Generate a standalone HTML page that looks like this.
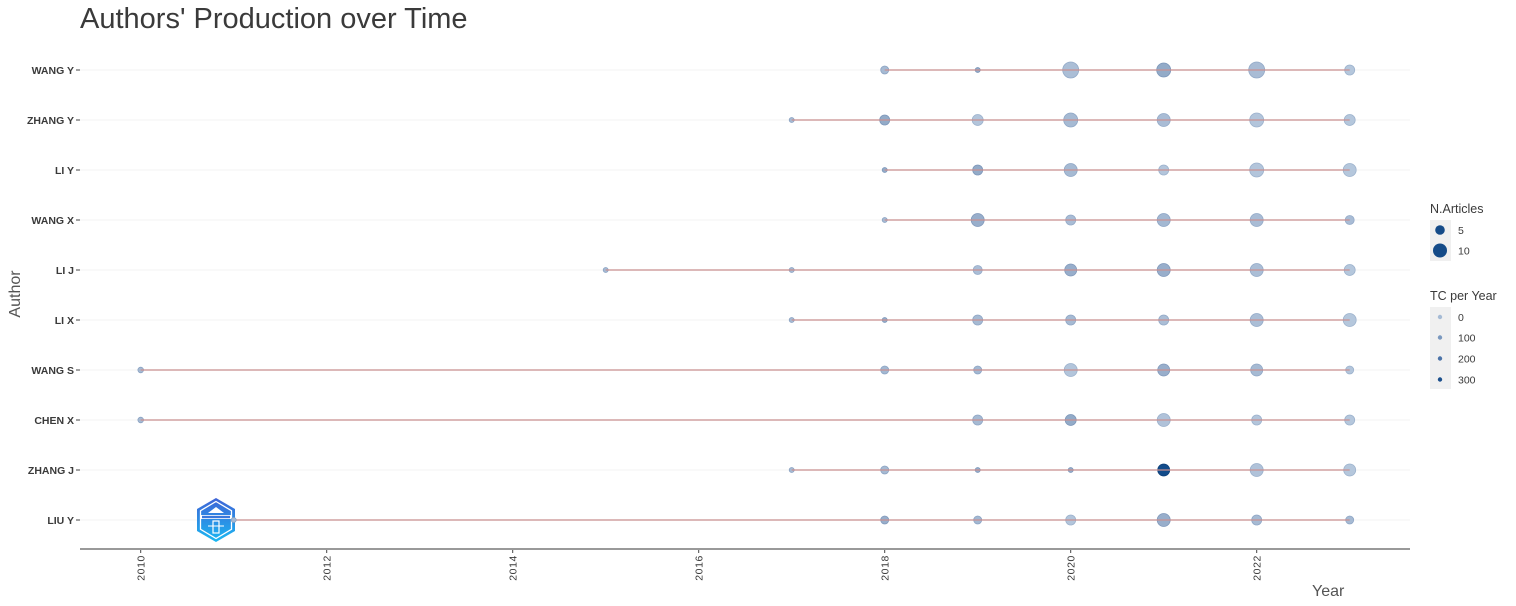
<!DOCTYPE html>
<html>
<head>
<meta charset="utf-8">
<style>
html,body{margin:0;padding:0;background:#fff;}
svg{display:block;}
text{font-family:"Liberation Sans",sans-serif;}
</style>
</head>
<body>
<svg width="1516" height="606" viewBox="0 0 1516 606" xmlns="http://www.w3.org/2000/svg">
<defs>
<linearGradient id="lg" x1="0" y1="0" x2="0" y2="1">
<stop offset="0" stop-color="#3f63d6"/>
<stop offset="1" stop-color="#1ab8f2"/>
</linearGradient>
</defs>

<!-- title -->
<text x="80" y="28" font-size="29" fill="#3a3a3a">Authors' Production over Time</text>

<!-- gridlines -->
<g stroke="#f3f3f3" stroke-width="1">
<line x1="80" y1="70" x2="1410" y2="70"/>
<line x1="80" y1="120" x2="1410" y2="120"/>
<line x1="80" y1="170" x2="1410" y2="170"/>
<line x1="80" y1="220" x2="1410" y2="220"/>
<line x1="80" y1="270" x2="1410" y2="270"/>
<line x1="80" y1="320" x2="1410" y2="320"/>
<line x1="80" y1="370" x2="1410" y2="370"/>
<line x1="80" y1="420" x2="1410" y2="420"/>
<line x1="80" y1="470" x2="1410" y2="470"/>
<line x1="80" y1="520" x2="1410" y2="520"/>
</g>

<!-- y labels -->
<g font-size="10.5" font-weight="bold" fill="#3a3a3a" text-anchor="end">
<text x="74" y="74">WANG Y</text>
<text x="74" y="124">ZHANG Y</text>
<text x="74" y="174">LI Y</text>
<text x="74" y="224">WANG X</text>
<text x="74" y="274">LI J</text>
<text x="74" y="324">LI X</text>
<text x="74" y="374">WANG S</text>
<text x="74" y="424">CHEN X</text>
<text x="74" y="474">ZHANG J</text>
<text x="74" y="524">LIU Y</text>
</g>
<g stroke="#444" stroke-width="1">
<line x1="76" y1="70" x2="80" y2="70"/>
<line x1="76" y1="120" x2="80" y2="120"/>
<line x1="76" y1="170" x2="80" y2="170"/>
<line x1="76" y1="220" x2="80" y2="220"/>
<line x1="76" y1="270" x2="80" y2="270"/>
<line x1="76" y1="320" x2="80" y2="320"/>
<line x1="76" y1="370" x2="80" y2="370"/>
<line x1="76" y1="420" x2="80" y2="420"/>
<line x1="76" y1="470" x2="80" y2="470"/>
<line x1="76" y1="520" x2="80" y2="520"/>
</g>

<!-- axis titles -->
<text transform="translate(20,294) rotate(-90)" font-size="16" fill="#555" text-anchor="middle">Author</text>
<text x="1312" y="596" font-size="16" fill="#555">Year</text>

<!-- x axis -->
<line x1="80" y1="549" x2="1410" y2="549" stroke="#999" stroke-width="2"/>
<g stroke="#444" stroke-width="1">
<line x1="140.7" y1="550" x2="140.7" y2="553"/>
<line x1="326.7" y1="550" x2="326.7" y2="553"/>
<line x1="512.7" y1="550" x2="512.7" y2="553"/>
<line x1="698.7" y1="550" x2="698.7" y2="553"/>
<line x1="884.7" y1="550" x2="884.7" y2="553"/>
<line x1="1070.7" y1="550" x2="1070.7" y2="553"/>
<line x1="1256.7" y1="550" x2="1256.7" y2="553"/>
</g>
<g font-size="10.5" fill="#3a3a3a" text-anchor="end" letter-spacing="0.6">
<text transform="translate(144.5,555) rotate(-90)">2010</text>
<text transform="translate(330.5,555) rotate(-90)">2012</text>
<text transform="translate(516.5,555) rotate(-90)">2014</text>
<text transform="translate(702.5,555) rotate(-90)">2016</text>
<text transform="translate(888.5,555) rotate(-90)">2018</text>
<text transform="translate(1074.5,555) rotate(-90)">2020</text>
<text transform="translate(1260.5,555) rotate(-90)">2022</text>
</g>

<!-- points -->
<g stroke-width="0.8">
<!-- WANG Y -->
<circle cx="884.7" cy="70" r="4" fill="#a6bad3" stroke="#8aa2c2"/>
<circle cx="977.7" cy="70" r="2.5" fill="#90a8c6" stroke="#7892b6"/>
<circle cx="1070.7" cy="70" r="8" fill="#abbed6" stroke="#93aac8"/>
<circle cx="1163.7" cy="70" r="7" fill="#93abc8" stroke="#7d97ba"/>
<circle cx="1256.7" cy="70" r="8" fill="#a9bcd5" stroke="#93aac8"/>
<circle cx="1349.7" cy="70" r="5" fill="#b5c7dc" stroke="#9cb2cd"/>
<!-- ZHANG Y -->
<circle cx="791.7" cy="120" r="2.5" fill="#a6bad3" stroke="#8aa2c2"/>
<circle cx="884.7" cy="120" r="5" fill="#93abc8" stroke="#7d97ba"/>
<circle cx="977.7" cy="120" r="5.5" fill="#b3c5db" stroke="#9cb2cd"/>
<circle cx="1070.7" cy="120" r="7" fill="#a6bad3" stroke="#8fa7c6"/>
<circle cx="1163.7" cy="120" r="6.5" fill="#a9bcd5" stroke="#93aac8"/>
<circle cx="1256.7" cy="120" r="7" fill="#b3c5db" stroke="#9cb2cd"/>
<circle cx="1349.7" cy="120" r="5.5" fill="#b5c7dc" stroke="#9cb2cd"/>
<!-- LI Y -->
<circle cx="884.7" cy="170" r="2.5" fill="#93abc8" stroke="#7d97ba"/>
<circle cx="977.7" cy="170" r="5" fill="#93abc8" stroke="#7d97ba"/>
<circle cx="1070.7" cy="170" r="6.5" fill="#a6bad3" stroke="#8fa7c6"/>
<circle cx="1163.7" cy="170" r="5" fill="#b3c5db" stroke="#9cb2cd"/>
<circle cx="1256.7" cy="170" r="7" fill="#b3c5db" stroke="#9cb2cd"/>
<circle cx="1349.7" cy="170" r="6.5" fill="#b5c7dc" stroke="#9cb2cd"/>
<!-- WANG X -->
<circle cx="884.7" cy="220" r="2.5" fill="#a6bad3" stroke="#8aa2c2"/>
<circle cx="977.7" cy="220" r="6.5" fill="#98aecb" stroke="#8199bb"/>
<circle cx="1070.7" cy="220" r="5" fill="#a9bcd5" stroke="#93aac8"/>
<circle cx="1163.7" cy="220" r="6.5" fill="#a3b8d2" stroke="#8ca4c4"/>
<circle cx="1256.7" cy="220" r="6.5" fill="#a9bcd5" stroke="#93aac8"/>
<circle cx="1349.7" cy="220" r="4.5" fill="#a9bcd5" stroke="#93aac8"/>
<!-- LI J -->
<circle cx="605.7" cy="270" r="2.5" fill="#a6bad3" stroke="#8aa2c2"/>
<circle cx="791.7" cy="270" r="2.5" fill="#a6bad3" stroke="#8aa2c2"/>
<circle cx="977.7" cy="270" r="4.5" fill="#aabdd6" stroke="#93aac8"/>
<circle cx="1070.7" cy="270" r="6" fill="#98aecb" stroke="#8199bb"/>
<circle cx="1163.7" cy="270" r="6.5" fill="#98aecb" stroke="#8199bb"/>
<circle cx="1256.7" cy="270" r="6.5" fill="#abbed6" stroke="#93aac8"/>
<circle cx="1349.7" cy="270" r="5.5" fill="#b5c7dc" stroke="#9cb2cd"/>
<!-- LI X -->
<circle cx="791.7" cy="320" r="2.5" fill="#a6bad3" stroke="#8aa2c2"/>
<circle cx="884.7" cy="320" r="2.5" fill="#93abc8" stroke="#7d97ba"/>
<circle cx="977.7" cy="320" r="5" fill="#a6bad3" stroke="#8fa7c6"/>
<circle cx="1070.7" cy="320" r="5" fill="#a6bad3" stroke="#8fa7c6"/>
<circle cx="1163.7" cy="320" r="5" fill="#abbed6" stroke="#93aac8"/>
<circle cx="1256.7" cy="320" r="6.5" fill="#abbed6" stroke="#93aac8"/>
<circle cx="1349.7" cy="320" r="6.5" fill="#b5c7dc" stroke="#9cb2cd"/>
<!-- WANG S -->
<circle cx="140.7" cy="370" r="2.8" fill="#a6bad3" stroke="#8aa2c2"/>
<circle cx="884.7" cy="370" r="4" fill="#a3b8d2" stroke="#8ca4c4"/>
<circle cx="977.7" cy="370" r="4" fill="#a3b8d2" stroke="#8ca4c4"/>
<circle cx="1070.7" cy="370" r="6.5" fill="#b3c5db" stroke="#9cb2cd"/>
<circle cx="1163.7" cy="370" r="6" fill="#98aecb" stroke="#8199bb"/>
<circle cx="1256.7" cy="370" r="6" fill="#a6bad3" stroke="#8fa7c6"/>
<circle cx="1349.7" cy="370" r="4" fill="#b3c5db" stroke="#9cb2cd"/>
<!-- CHEN X -->
<circle cx="140.7" cy="420" r="2.8" fill="#a6bad3" stroke="#8aa2c2"/>
<circle cx="977.7" cy="420" r="5" fill="#a6bad3" stroke="#8fa7c6"/>
<circle cx="1070.7" cy="420" r="5.5" fill="#93abc8" stroke="#7d97ba"/>
<circle cx="1163.7" cy="420" r="6.5" fill="#b0c2d9" stroke="#9ab0cc"/>
<circle cx="1256.7" cy="420" r="5" fill="#b3c5db" stroke="#9cb2cd"/>
<circle cx="1349.7" cy="420" r="5" fill="#b5c7dc" stroke="#9cb2cd"/>
<!-- ZHANG J -->
<circle cx="791.7" cy="470" r="2.5" fill="#a6bad3" stroke="#8aa2c2"/>
<circle cx="884.7" cy="470" r="4" fill="#a6bad3" stroke="#8aa2c2"/>
<circle cx="977.7" cy="470" r="2.5" fill="#93abc8" stroke="#7d97ba"/>
<circle cx="1070.7" cy="470" r="2.5" fill="#93abc8" stroke="#7d97ba"/>
<circle cx="1163.7" cy="470" r="6" fill="#124b8a" stroke="#0e3f78"/>
<circle cx="1256.7" cy="470" r="6.5" fill="#b0c2d9" stroke="#9ab0cc"/>
<circle cx="1349.7" cy="470" r="6" fill="#b5c7dc" stroke="#9cb2cd"/>
<!-- LIU Y -->
<circle cx="884.7" cy="520" r="4" fill="#98aecb" stroke="#8199bb"/>
<circle cx="977.7" cy="520" r="4" fill="#a3b8d2" stroke="#8ca4c4"/>
<circle cx="1070.7" cy="520" r="5" fill="#b3c5db" stroke="#9cb2cd"/>
<circle cx="1163.7" cy="520" r="6.5" fill="#98aecb" stroke="#8199bb"/>
<circle cx="1256.7" cy="520" r="5" fill="#a6bad3" stroke="#8fa7c6"/>
<circle cx="1349.7" cy="520" r="4" fill="#a6bad3" stroke="#8fa7c6"/>
</g>

<!-- lines (on top) -->
<g stroke="#c98f8f" stroke-opacity="0.62" stroke-width="2">
<line x1="884.7" y1="70" x2="1349.7" y2="70"/>
<line x1="791.7" y1="120" x2="1349.7" y2="120"/>
<line x1="884.7" y1="170" x2="1349.7" y2="170"/>
<line x1="884.7" y1="220" x2="1349.7" y2="220"/>
<line x1="605.7" y1="270" x2="1349.7" y2="270"/>
<line x1="791.7" y1="320" x2="1349.7" y2="320"/>
<line x1="140.7" y1="370" x2="1349.7" y2="370"/>
<line x1="140.7" y1="420" x2="1349.7" y2="420"/>
<line x1="791.7" y1="470" x2="1349.7" y2="470"/>
<line x1="233.7" y1="520" x2="1349.7" y2="520"/>
</g>

<!-- logo -->
<g transform="translate(216,520)">
<polygon points="0,-22 19,-11 19,11 0,22 -19,11 -19,-11" fill="url(#lg)"/>
<polygon points="0,-18.5 15.5,-9.3 15.5,9.3 0,18.5 -15.5,9.3 -15.5,-9.3" fill="none" stroke="#fff" stroke-width="1.3"/>
<rect x="-16" y="-5" width="32" height="4" fill="#fff"/>
<rect x="-14" y="-4.2" width="28" height="2.4" fill="#3a78dc"/>
<path d="M-8,-7 L0,-13 L8,-7 Z" fill="#fff"/>
<rect x="-3" y="1" width="6" height="12" fill="none" stroke="#fff" stroke-width="1.2"/>
<line x1="-8" y1="6" x2="8" y2="6" stroke="#fff" stroke-width="1"/>
</g>
<circle cx="233.7" cy="520" r="2.5" fill="#a6bad3" stroke="#8aa2c2" stroke-width="0.8"/>

<!-- legend -->
<text x="1430" y="213" font-size="12.5" fill="#3a3a3a">N.Articles</text>
<rect x="1430" y="220" width="21" height="41" fill="#f0f0f0"/>
<circle cx="1440" cy="230" r="4.8" fill="#154b88"/>
<circle cx="1440" cy="250.5" r="7" fill="#154b88"/>
<g font-size="10.5" fill="#3a3a3a">
<text x="1458" y="234">5</text>
<text x="1458" y="254.5">10</text>
</g>

<text x="1430" y="300" font-size="12.5" fill="#3a3a3a">TC per Year</text>
<rect x="1430" y="307" width="21" height="82" fill="#f0f0f0"/>
<circle cx="1440" cy="317" r="2.2" fill="#a6bbd5"/>
<circle cx="1440" cy="337.5" r="2.2" fill="#7a98bf"/>
<circle cx="1440" cy="358.5" r="2.2" fill="#4b73a8"/>
<circle cx="1440" cy="379.5" r="2.2" fill="#1b4f8c"/>
<g font-size="10.5" fill="#3a3a3a">
<text x="1458" y="321">0</text>
<text x="1458" y="341.5">100</text>
<text x="1458" y="362.5">200</text>
<text x="1458" y="383.5">300</text>
</g>
</svg>
</body>
</html>
